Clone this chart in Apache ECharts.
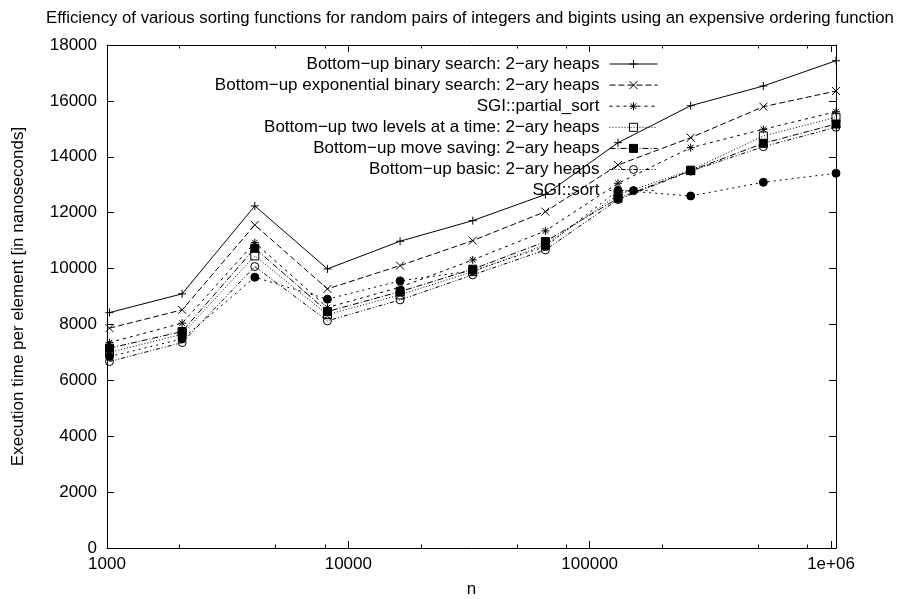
<!DOCTYPE html>
<html>
<head>
<meta charset="utf-8">
<script src="https://cdn.jsdelivr.net/npm/echarts@6/dist/echarts.min.js"></script>
<style>
html, body { margin: 0; padding: 0; background: #fff; }
#main { width: 899px; height: 599px; }
</style>
</head>
<body>
<div id="main"></div>
<script>
// n values (2^10 .. 2^20)
var sizes = [1024, 2048, 4096, 8192, 16384, 32768, 65536, 131072, 262144, 524288, 1048576];

var seriesNames = [
    'Bottom−up binary search: 2−ary heaps',
    'Bottom−up exponential binary search: 2−ary heaps',
    'SGI::partial_sort',
    'Bottom−up two levels at a time: 2−ary heaps',
    'Bottom−up move saving: 2−ary heaps',
    'Bottom−up basic: 2−ary heaps',
    'SGI::sort'
];

var binarySearch = [8425, 9094, 12241, 9988, 10978, 11715, 12650, 14504, 15828, 16532, 17437];
var exponentialSearch = [7867, 8522, 11561, 9272, 10106, 11000, 12037, 13707, 14683, 15792, 16353];
var partialSort = [7352, 8046, 10929, 8604, 9333, 10310, 11347, 13052, 14326, 14983, 15613];
var twoLevels = [7000, 7650, 10453, 8350, 9058, 9891, 10850, 12640, 13520, 14744, 15412];
var moveSaving = [7152, 7746, 10728, 8461, 9176, 9976, 10964, 12516, 13503, 14483, 15173];
var basic = [6673, 7352, 10070, 8128, 8879, 9773, 10667, 12470, 13490, 14361, 15055];
var sgiSort = [6850, 7480, 9691, 8904, 9559, 9920, 10785, 12800, 12598, 13088, 13410];

var majorTicks = [1000, 10000, 100000, 1000000];
var minorTicks = [2000, 5000, 8000, 20000, 50000, 80000, 200000, 500000, 800000];

var FONT = 'Liberation Sans';

function pairs(vals) {
    var ret = [];
    for (var i = 0; i < vals.length; i++) {
        ret.push([sizes[i], vals[i]]);
    }
    return ret;
}

// gnuplot like point types
var symPlus = 'path://M0,5L10,5M5,0L5,10';
var symCross = 'path://M0,0L10,10M10,0L0,10';
var symStar = 'path://M0,5L10,5M5,0L5,10M1.5,1.5L8.5,8.5M8.5,1.5L1.5,8.5';

var styles = [
    { data: binarySearch, symbol: symPlus, dash: 'solid', fill: 'transparent' },
    { data: exponentialSearch, symbol: symCross, dash: [6, 3], fill: 'transparent' },
    { data: partialSort, symbol: symStar, dash: [3, 4], fill: 'transparent' },
    { data: twoLevels, symbol: 'rect', dash: [1, 2], fill: 'transparent' },
    { data: moveSaving, symbol: 'rect', dash: [6, 2, 1, 2], fill: '#000' },
    { data: basic, symbol: 'circle', dash: [4, 2, 1, 2, 1, 2], fill: 'transparent' },
    { data: sgiSort, symbol: 'circle', dash: [2, 4], fill: '#000' }
];

var series = [];
var legends = [];
for (var s = 0; s < styles.length; s++) {
    series.push({
        name: seriesNames[s],
        type: 'line',
        xAxisIndex: 0,
        yAxisIndex: 0,
        data: pairs(styles[s].data),
        symbol: styles[s].symbol,
        symbolSize: 8,
        showAllSymbol: true,
        lineStyle: { color: '#000', width: 1, type: styles[s].dash },
        itemStyle: { color: styles[s].fill, borderColor: '#000', borderWidth: 1 },
        emphasis: { disabled: true }
    });
    // one legend per row so the samples line up on the right
    legends.push({
        data: [seriesNames[s]],
        right: 241,
        top: 55.5 + 21.1 * s,
        padding: 0,
        align: 'right',
        itemWidth: 48,
        itemHeight: 10,
        selectedMode: false,
        lineStyle: { width: 1, color: '#000', type: styles[s].dash },
        itemStyle: { color: styles[s].fill, borderColor: '#000', borderWidth: 1 },
        textStyle: { fontFamily: FONT, fontSize: 17, color: '#000', padding: [0, 5, 0, 0] }
    });
}

function logAxis(pos, ticks, len, showLine, showLabel) {
    return {
        type: 'log',
        logBase: 10,
        position: pos,
        gridIndex: 0,
        min: 1000,
        max: 1048576,
        axisLine: { show: showLine, lineStyle: { color: '#000', width: 1 } },
        axisTick: { show: true, inside: true, length: len, customValues: ticks, lineStyle: { color: '#000', width: 1 } },
        axisLabel: {
            show: showLabel,
            customValues: majorTicks,
            margin: 8,
            fontFamily: FONT,
            fontSize: 17,
            color: '#000',
            formatter: function (v) {
                return v >= 1000000 ? '1e+06' : String(v);
            }
        },
        splitLine: { show: false },
        minorTick: { show: false }
    };
}

var xAxes = [
    logAxis('bottom', majorTicks, 7, true, true),
    logAxis('bottom', minorTicks, 3.5, false, false),
    logAxis('top', majorTicks, 7, true, false),
    logAxis('top', minorTicks, 3.5, false, false)
];
xAxes[0].name = 'n';
xAxes[0].nameLocation = 'middle';
xAxes[0].nameGap = 33;
xAxes[0].nameTextStyle = { fontFamily: FONT, fontSize: 17, color: '#000' };

var myChart = echarts.init(document.getElementById('main'), null, { renderer: 'canvas' });

var option = {
    animation: false,
    backgroundColor: '#fff',
    title: {
        text: 'Efficiency of various sorting functions for random pairs of integers and bigints using an expensive ordering function',
        left: 46,
        top: 10,
        padding: 0,
        textStyle: { fontFamily: FONT, fontSize: 16.75, fontWeight: 'normal', color: '#000' }
    },
    legend: legends,
    grid: {
        left: 107,
        right: 63,
        top: 45,
        bottom: 51,
        outerBoundsMode: 'none'
    },
    xAxis: xAxes,
    yAxis: [
        {
            type: 'value',
            position: 'left',
            min: 0,
            max: 18000,
            interval: 2000,
            name: 'Execution time per element [in nanoseconds]',
            nameLocation: 'middle',
            nameGap: 80,
            nameTextStyle: { fontFamily: FONT, fontSize: 17, color: '#000' },
            axisLine: { show: true, lineStyle: { color: '#000', width: 1 } },
            axisTick: { show: true, inside: true, length: 7, lineStyle: { color: '#000' } },
            axisLabel: {
                margin: 10, fontFamily: FONT, fontSize: 17, color: '#000',
                formatter: function (v) { return String(v); }
            },
            splitLine: { show: false }
        },
        {
            type: 'value',
            position: 'right',
            min: 0,
            max: 18000,
            interval: 2000,
            axisLine: { show: true, lineStyle: { color: '#000', width: 1 } },
            axisTick: { show: true, inside: true, length: 7, lineStyle: { color: '#000' } },
            axisLabel: { show: false },
            splitLine: { show: false }
        }
    ],
    series: series
};

myChart.setOption(option);
</script>
</body>
</html>
